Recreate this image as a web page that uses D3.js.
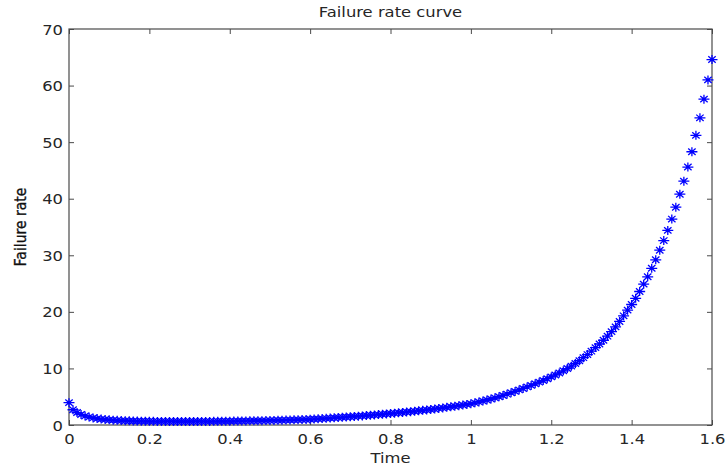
<!DOCTYPE html>
<html>
<head>
<meta charset="utf-8">
<script src="https://cdn.jsdelivr.net/npm/d3@7/dist/d3.min.js"></script>
<style>
  html, body { margin: 0; padding: 0; background: #ffffff; }
  svg { display: block; }
</style>
</head>
<body>
<svg id="chart" width="728" height="469"></svg>
<script>
// Failure rate curve (bathtub).
const timeValues = [
  0.00, 0.01, 0.02, 0.03, 0.04, 0.05, 0.06, 0.07, 0.08, 0.09,
  0.10, 0.11, 0.12, 0.13, 0.14, 0.15, 0.16, 0.17, 0.18, 0.19,
  0.20, 0.21, 0.22, 0.23, 0.24, 0.25, 0.26, 0.27, 0.28, 0.29,
  0.30, 0.31, 0.32, 0.33, 0.34, 0.35, 0.36, 0.37, 0.38, 0.39,
  0.40, 0.41, 0.42, 0.43, 0.44, 0.45, 0.46, 0.47, 0.48, 0.49,
  0.50, 0.51, 0.52, 0.53, 0.54, 0.55, 0.56, 0.57, 0.58, 0.59,
  0.60, 0.61, 0.62, 0.63, 0.64, 0.65, 0.66, 0.67, 0.68, 0.69,
  0.70, 0.71, 0.72, 0.73, 0.74, 0.75, 0.76, 0.77, 0.78, 0.79,
  0.80, 0.81, 0.82, 0.83, 0.84, 0.85, 0.86, 0.87, 0.88, 0.89,
  0.90, 0.91, 0.92, 0.93, 0.94, 0.95, 0.96, 0.97, 0.98, 0.99,
  1.00, 1.01, 1.02, 1.03, 1.04, 1.05, 1.06, 1.07, 1.08, 1.09,
  1.10, 1.11, 1.12, 1.13, 1.14, 1.15, 1.16, 1.17, 1.18, 1.19,
  1.20, 1.21, 1.22, 1.23, 1.24, 1.25, 1.26, 1.27, 1.28, 1.29,
  1.30, 1.31, 1.32, 1.33, 1.34, 1.35, 1.36, 1.37, 1.38, 1.39,
  1.40, 1.41, 1.42, 1.43, 1.44, 1.45, 1.46, 1.47, 1.48, 1.49,
  1.50, 1.51, 1.52, 1.53, 1.54, 1.55, 1.56, 1.57, 1.58, 1.59,
  1.60
];

const failureRate = [
  3.95, 2.70, 2.20, 1.85, 1.60, 1.40, 1.25, 1.13, 1.04, 0.97,
  0.91, 0.86, 0.82, 0.78, 0.75, 0.73, 0.71, 0.69, 0.68, 0.67,
  0.66, 0.65, 0.64, 0.64, 0.63, 0.63, 0.63, 0.62, 0.62, 0.62,
  0.62, 0.63, 0.63, 0.63, 0.64, 0.64, 0.65, 0.66, 0.66, 0.67,
  0.68, 0.69, 0.70, 0.71, 0.72, 0.73, 0.74, 0.75, 0.77, 0.78,
  0.80, 0.81, 0.83, 0.85, 0.87, 0.89, 0.91, 0.93, 0.96, 0.98,
  1.01, 1.05, 1.09, 1.13, 1.18, 1.22, 1.27, 1.32, 1.36, 1.41,
  1.46, 1.51, 1.56, 1.61, 1.67, 1.72, 1.78, 1.84, 1.90, 1.96,
  2.03, 2.09, 2.16, 2.22, 2.29, 2.36, 2.44, 2.51, 2.59, 2.67,
  2.75, 2.84, 2.93, 3.02, 3.12, 3.22, 3.32, 3.42, 3.53, 3.64,
  3.76, 3.92, 4.08, 4.25, 4.42, 4.60, 4.80, 5.00, 5.22, 5.45,
  5.70, 5.94, 6.20, 6.46, 6.73, 7.00, 7.28, 7.57, 7.87, 8.18,
  8.50, 8.85, 9.20, 9.58, 9.98, 10.40, 10.87, 11.36, 11.90, 12.45,
  13.05, 13.68, 14.32, 14.98, 15.70, 16.50, 17.35, 18.30, 19.30, 20.30,
  21.30, 22.40, 23.60, 24.90, 26.20, 27.70, 29.20, 30.90, 32.60, 34.40,
  36.40, 38.50, 40.80, 43.10, 45.60, 48.30, 51.20, 54.30, 57.60, 61.00,
  64.60
];

const xTicks = [0, 0.2, 0.4, 0.6, 0.8, 1, 1.2, 1.4, 1.6];
const yTicks = [0, 10, 20, 30, 40, 50, 60, 70];

const TITLE = 'Failure rate curve';
const X_LABEL = 'Time';
const Y_LABEL = 'Failure rate';

const LEFT = 69;
const RIGHT = 712;
const TOP = 29;
const BOTTOM = 425;
const TICK = 5;
const STRETCH = 1.17;   // the source picture is a bit wider than it is tall
const FONT = '"DejaVu Sans", sans-serif';
const AXIS_COLOR = '#4a4a4a';
const TEXT_COLOR = '#262626';
const MARKER_COLOR = '#0000ff';

const root = d3.select('#chart');

const x = d3.scaleLinear().domain([0, 1.6]).range([LEFT, RIGHT]);
const y = d3.scaleLinear().domain([0, 70]).range([BOTTOM, TOP]);

// axes with inward ticks on all four sides, like a boxed MATLAB plot
const bottomAxis = d3.axisBottom(x)
  .tickValues(xTicks)
  .tickSizeInner(-TICK)
  .tickSizeOuter(0)
  .tickPadding(0)
  .tickFormat(d3.format('~g'));

const leftAxis = d3.axisLeft(y)
  .tickValues(yTicks)
  .tickSizeInner(-TICK)
  .tickSizeOuter(0)
  .tickPadding(0)
  .tickFormat(d3.format('~g'));

const topAxis = d3.axisTop(x).tickValues(xTicks).tickSizeInner(-TICK).tickSizeOuter(0).tickFormat('');
const rightAxis = d3.axisRight(y).tickValues(yTicks).tickSizeInner(-TICK).tickSizeOuter(0).tickFormat('');

const gBottom = root.append('g').attr('transform', `translate(0,${BOTTOM})`).call(bottomAxis);
const gLeft = root.append('g').attr('transform', `translate(${LEFT},0)`).call(leftAxis);
const gTop = root.append('g').attr('transform', `translate(0,${TOP})`).call(topAxis);
const gRight = root.append('g').attr('transform', `translate(${RIGHT},0)`).call(rightAxis);

[gBottom, gLeft, gTop, gRight].forEach((g) => {
  g.select('.domain').remove();
  g.selectAll('.tick line')
    .attr('stroke', AXIS_COLOR)
    .attr('stroke-width', 1);
});

gBottom.selectAll('.tick text')
  .attr('y', 0)
  .attr('dy', 0)
  .attr('transform', `translate(0,19) scale(${STRETCH},1)`)
  .attr('fill', TEXT_COLOR)
  .attr('font-size', 14)
  .attr('font-family', FONT);

gLeft.selectAll('.tick text')
  .attr('x', 0)
  .attr('dy', 0)
  .attr('transform', `translate(-6,5) scale(${STRETCH},1)`)
  .attr('fill', TEXT_COLOR)
  .attr('font-size', 14)
  .attr('font-family', FONT);

// frame
root.append('rect')
  .attr('x', LEFT)
  .attr('y', TOP)
  .attr('width', RIGHT - LEFT)
  .attr('height', BOTTOM - TOP)
  .attr('fill', 'none')
  .attr('stroke', AXIS_COLOR)
  .attr('stroke-width', 1.2);

// asterisk markers
const STAR = 'M-5.5,0H5.5M0,-4.5V4.5M-3.7,-3.2L3.7,3.2M-3.7,3.2L3.7,-3.2';

root.append('g')
  .selectAll('path')
  .data(timeValues.map((t, i) => [t, failureRate[i]]))
  .join('path')
  .attr('transform', (d) => `translate(${x(d[0])},${y(d[1])})`)
  .attr('d', STAR)
  .attr('fill', 'none')
  .attr('stroke', MARKER_COLOR)
  .attr('stroke-width', 1.3);

// title and labels
root.append('text')
  .attr('transform', `translate(${(LEFT + RIGHT) / 2},17) scale(${STRETCH},1)`)
  .attr('text-anchor', 'middle')
  .attr('fill', TEXT_COLOR)
  .attr('font-size', 14)
  .attr('font-family', FONT)
  .text(TITLE);

root.append('text')
  .attr('transform', `translate(${(LEFT + RIGHT) / 2},463) scale(${STRETCH},1)`)
  .attr('text-anchor', 'middle')
  .attr('fill', TEXT_COLOR)
  .attr('font-size', 14)
  .attr('font-family', FONT)
  .text(X_LABEL);

root.append('text')
  .attr('transform', `translate(26,${(TOP + BOTTOM) / 2}) scale(${STRETCH},1) rotate(-90)`)
  .attr('text-anchor', 'middle')
  .attr('fill', '#111111')
  .attr('font-size', 14)
  .attr('font-family', FONT)
  .attr('stroke', '#111111')
  .attr('stroke-width', 0.3)
  .text(Y_LABEL);
</script>
</body>
</html>
